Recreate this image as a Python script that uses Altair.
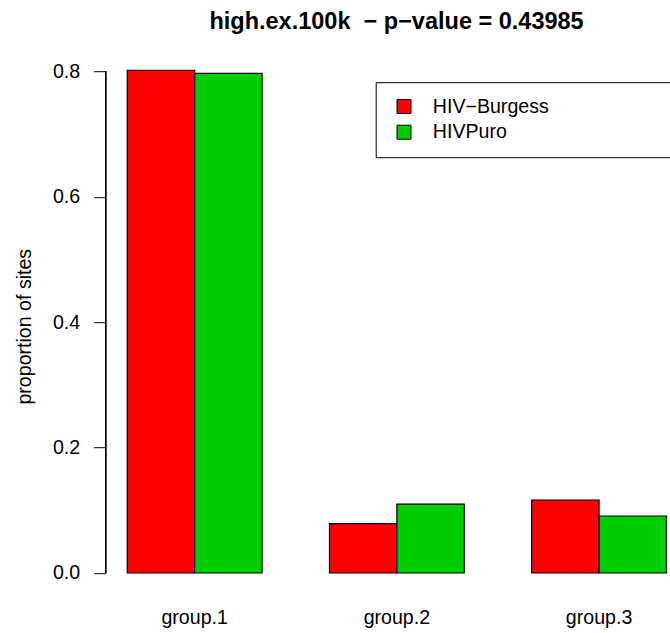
import altair as alt
import pandas as pd

groups = ["group.1", "group.2", "group.3"]
series = ["HIV\u2212Burgess", "HIVPuro"]
burgess = [0.802, 0.0786, 0.1164]
puro = [0.797, 0.110, 0.0909]
colors = ["#FF0000", "#00CD00"]
y_ticks = [0.0, 0.2, 0.4, 0.6, 0.8]

rows = []
for g, b, p in zip(groups, burgess, puro):
    rows.append({"group": g, "series": series[0], "value": b})
    rows.append({"group": g, "series": series[1], "value": p})
df = pd.DataFrame(rows)

FONT = "Liberation Sans"
BASE = 19.6
PAD_L, PAD_T = 105.7, 50.2
W, H = 670 - PAD_L, 593.1 - PAD_T

yscale = alt.Scale(domain=[-0.0321, 0.834], nice=False, zero=False)

# the legend box of the reference runs past the right edge of the picture
pad_tail = "\u00a0" * 30 + "\u200b"

bars = alt.Chart(df).mark_bar(stroke="black", strokeWidth=1.2, opacity=1).encode(
    x=alt.X("group:N", sort=groups,
            scale=alt.Scale(paddingInner=1/3, paddingOuter=0.062, align=0.86),
            axis=alt.Axis(title=None, domain=False, ticks=False, tickSize=0,
                          labelAngle=0, labelFont=FONT, labelFontSize=BASE,
                          labelColor="black", labelBaseline="alphabetic",
                          labelPadding=30)),
    xOffset=alt.XOffset("series:N", sort=series, scale=alt.Scale(paddingInner=0, paddingOuter=0)),
    y=alt.Y("value:Q", scale=yscale,
            axis=alt.Axis(title="proportion of sites", values=y_ticks, format=".1f",
                          domain=False, grid=False, tickSize=12, tickColor="black",
                          tickWidth=1, labelPadding=14, labelFont=FONT,
                          labelFontSize=BASE, labelColor="black",
                          titleFont=FONT, titleFontSize=BASE, titleFontWeight="normal",
                          titleColor="black", titleX=-75.7, titleY=276,
                          titleBaseline="alphabetic", titleAngle=270)),
    y2=alt.datum(0),
    color=alt.Color("series:N", sort=series,
                    scale=alt.Scale(domain=series, range=colors),
                    legend=alt.Legend(title=None, orient="none", legendX=270, legendY=32,
                                      strokeColor="black", padding=14.5,
                                      symbolType="square", symbolSize=196,
                                      symbolStrokeColor="black", symbolStrokeWidth=1,
                                      symbolOffset=4, labelOffset=19,
                                      rowPadding=4.7, labelFont=FONT,
                                      labelFontSize=BASE, labelColor="black",
                                      labelLimit=600,
                                      labelExpr="datum.label + '" + pad_tail + "'")),
)

axis_line = alt.Chart(df).mark_rule(color="black", strokeWidth=1).encode(
    x=alt.value(0),
    y=alt.datum(0.0, scale=yscale),
    y2=alt.datum(0.8),
)

chart = alt.layer(bars, axis_line).properties(
    width=W, height=H,
    background="white",
    padding={"left": PAD_L, "top": PAD_T, "right": 0, "bottom": 633 - 593.1},
    autosize=alt.AutoSizeParams(type="none"),
    title=alt.TitleParams(text="high.ex.100k\u00a0 \u2212 p\u2212value = 0.43985",
                          font=FONT, fontSize=23.5, fontWeight="bold", color="black",
                          anchor="middle", frame="group", dx=8.7, dy=23, offset=21,
                          baseline="alphabetic"),
).configure_view(stroke="transparent", strokeWidth=0)

chart.save("out.html", embed_options={"renderer": "svg", "actions": False})
